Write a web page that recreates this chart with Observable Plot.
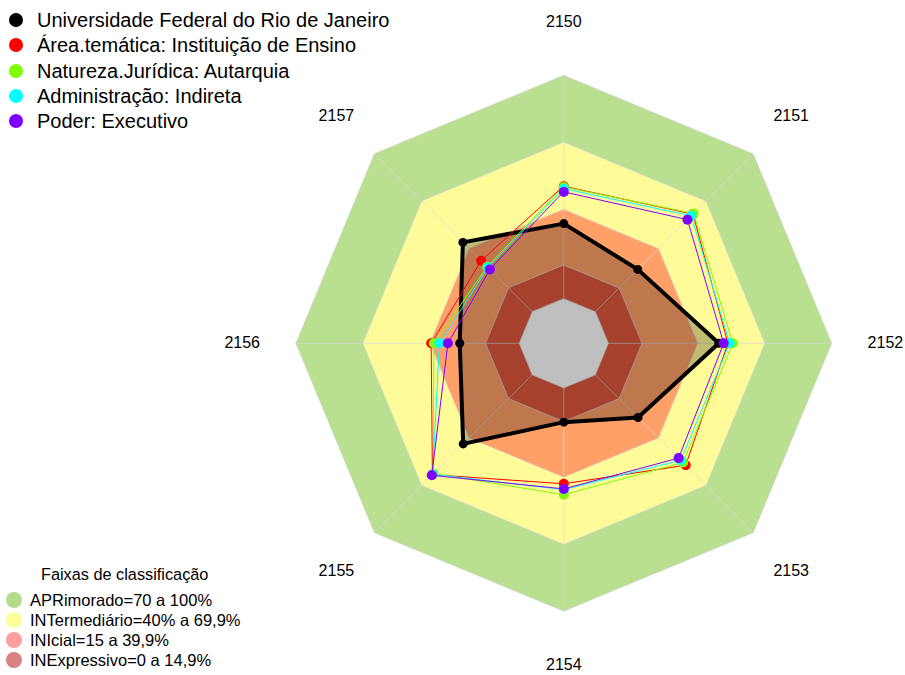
<!DOCTYPE html>
<html>
<head>
<meta charset="utf-8">
<script src="https://cdn.jsdelivr.net/npm/d3@7"></script>
<script src="https://cdn.jsdelivr.net/npm/@observablehq/plot@0.6"></script>
<style>
  html, body { margin: 0; padding: 0; background: #fff; }
  #wrap { position: relative; width: 905px; height: 675px; font-family: Arial, "Liberation Sans", sans-serif; }
  #chart { position: absolute; left: 0; top: 0; }
  .leg { position: absolute; color: #000; white-space: nowrap; }
  .row { position: absolute; left: 0; display: flex; align-items: center; }
  .sw { border-radius: 50%; display: inline-block; flex: none; }
</style>
</head>
<body>
<div id="wrap">
  <div id="chart"></div>
  <div id="legTop" class="leg"></div>
  <div id="legBot" class="leg"></div>
</div>
<script>
// ---- data ----
const axes = ["2150", "2151", "2152", "2153", "2154", "2155", "2156", "2157"];
const seriesNames = [
  "Universidade Federal do Rio de Janeiro",
  "Área.temática: Instituição de Ensino",
  "Natureza.Jurídica: Autarquia",
  "Administração: Indireta",
  "Poder: Executivo"
];
const seriesColors = ["#000000", "#FF0000", "#80FF00", "#00FFFF", "#8000FF"];
const ufrj     = [33.6, 26.8, 49.4, 27.0, 15.3, 43.7, 26.6, 43.9];
const area     = [50.3, 61.8, 53.5, 57.2, 42.9, 63.2, 39.4, 32.3];
const natureza = [50.0, 62.2, 55.7, 55.5, 47.8, 62.5, 38.2, 28.5];
const admin    = [49.2, 60.7, 54.3, 54.0, 45.5, 63.0, 35.7, 28.0];
const poder    = [47.8, 58.3, 51.6, 52.7, 45.2, 63.6, 31.9, 26.8];
const seriesValues = [ufrj, area, natureza, admin, poder];

const bandLevels = [100, 70, 40, 15, 0];
const bandColors = ["#B9DF91", "#FFFB98", "#FFA068", "#DC573C", "#FFFFFF"];
const bandLabels = ["APRimorado=70 a 100%", "INTermediário=40% a 69,9%", "INIcial=15 a 39,9%", "INExpressivo=0 a 14,9%"];
const bandLegendColors = ["#B5DC8D", "#FFFF99", "#FF9C9C", "#D98282"];
const legendTitle = "Faixas de classificação";

// ---- geometry helpers ----
const offset = 20;           // radial offset (hole in the centre)
const labelValue = 124;      // radial position of axis labels
const n = axes.length;
const pt = (v, i) => {
  const a = i * 2 * Math.PI / n;
  const u = v + offset;
  return {x: u * Math.sin(a), y: u * Math.cos(a)};
};
const ring = (vals) => vals.map((v, i) => ({...pt(v, i), axis: axes[i], value: v}));
const level = (v) => ring(axes.map(() => v));

// layout
const W = 905, H = 675, cx = 563.3, cy = 342.8, k = 2.2333;

const marks = [];
bandLevels.forEach((lv, j) => {
  marks.push(Plot.line(level(lv), {x: "x", y: "y", curve: "linear-closed", fill: bandColors[j], stroke: "none"}));
});
bandLevels.forEach((lv) => {
  marks.push(Plot.line(level(lv), {x: "x", y: "y", curve: "linear-closed", stroke: "#d8d8d8", strokeWidth: 1, strokeOpacity: 0.7}));
});
const spokes = axes.flatMap((a, i) => [{...pt(0, i), axis: a}, {...pt(100, i), axis: a}]);
marks.push(Plot.line(spokes, {x: "x", y: "y", z: "axis", stroke: "#d8d8d8", strokeWidth: 1, strokeOpacity: 0.7}));
marks.push(Plot.text(axes.map((a, i) => ({...pt(labelValue, i), axis: a})), {
  x: "x", y: "y", text: "axis", fontSize: 16, fill: "#000", fontFamily: "Arial, 'Liberation Sans', sans-serif"
}));
seriesValues.forEach((vals, s) => {
  const d = ring(vals);
  if (s === 0) {
    marks.push(Plot.line(d, {x: "x", y: "y", curve: "linear-closed", fill: "#000", fillOpacity: 0.25, stroke: "#000", strokeWidth: 4, strokeLinejoin: "round"}));
    marks.push(Plot.dot(d, {x: "x", y: "y", r: 4.5, fill: "#000", stroke: "none"}));
  } else {
    marks.push(Plot.line(d, {x: "x", y: "y", curve: "linear-closed", fill: "none", stroke: seriesColors[s], strokeWidth: 1}));
    marks.push(Plot.dot(d, {x: "x", y: "y", r: 5, fill: seriesColors[s], stroke: "none"}));
  }
});

const chart = Plot.plot({
  width: W, height: H,
  margin: 0,
  style: {background: "transparent", overflow: "visible"},
  x: {domain: [-cx / k, (W - cx) / k], range: [0, W], axis: null},
  y: {domain: [-(H - cy) / k, cy / k], range: [H, 0], axis: null},
  marks
});
document.getElementById("chart").appendChild(chart);

// ---- legends (HTML) ----
const legTop = document.getElementById("legTop");
legTop.style.left = "0px"; legTop.style.top = "0px";
seriesNames.forEach((name, i) => {
  const row = document.createElement("div");
  row.className = "row";
  row.style.top = (20.3 + i * 25.1 - 12) + "px";
  row.style.height = "24px";
  row.style.left = "9px";
  row.innerHTML = `<span class="sw" style="width:14px;height:14px;background:${seriesColors[i]}"></span>` +
    `<span style="font-size:20px;margin-left:14px;line-height:24px">${name}</span>`;
  legTop.appendChild(row);
});

const legBot = document.getElementById("legBot");
legBot.style.left = "0px"; legBot.style.top = "0px";
const ttl = document.createElement("div");
ttl.style.position = "absolute"; ttl.style.left = "41px"; ttl.style.top = (573.5 - 10) + "px";
ttl.style.fontSize = "16.3px"; ttl.style.lineHeight = "20px";
ttl.textContent = legendTitle;
legBot.appendChild(ttl);
bandLabels.forEach((lab, i) => {
  const row = document.createElement("div");
  row.className = "row";
  row.style.top = (599.5 + i * 20.3 - 10) + "px";
  row.style.height = "20px";
  row.style.left = "6px";
  row.innerHTML = `<span class="sw" style="width:16px;height:16px;background:${bandLegendColors[i]}"></span>` +
    `<span style="font-size:16.5px;margin-left:8px;line-height:20px">${lab}</span>`;
  legBot.appendChild(row);
});
</script>
</body>
</html>
